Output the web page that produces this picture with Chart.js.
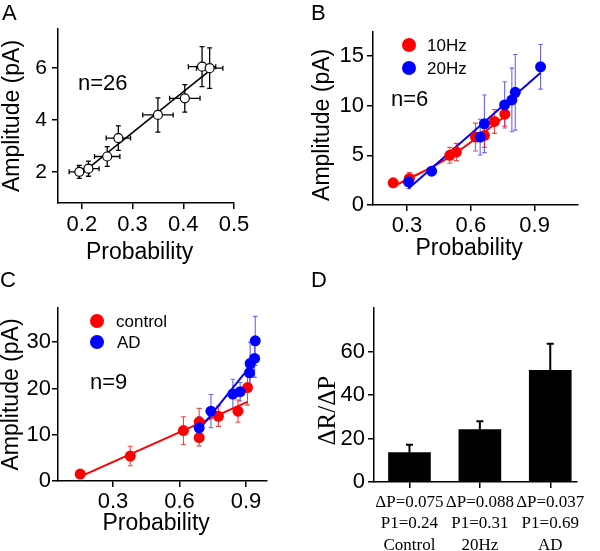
<!DOCTYPE html>
<html>
<head>
<meta charset="utf-8">
<script src="https://cdn.jsdelivr.net/npm/chart.js@4.4.0/dist/chart.umd.min.js"></script>
<style>
body { margin: 0; background: #fff; }
#fig { position: relative; width: 600px; height: 551px; font-family: "Liberation Sans", Arial, sans-serif; color: #000; overflow: hidden; }
#fig canvas { position: absolute; }
.txt { position: absolute; line-height: 1; white-space: nowrap; }
.panel { font-size: 22px; }
.nlab { font-size: 22px; }
.leg { font-size: 17px; }
.dot { position: absolute; width: 14px; height: 14px; border-radius: 50%; }
</style>
</head>
<body>
<div id="fig">
	<canvas id="chartA" width="300" height="275" style="left:0;top:0"></canvas>
	<canvas id="chartB" width="300" height="275" style="left:300px;top:0"></canvas>
	<canvas id="chartC" width="300" height="276" style="left:0;top:275px"></canvas>
	<canvas id="chartD" width="300" height="276" style="left:300px;top:275px"></canvas>

	<div class="txt panel" style="left:2px;top:2px">A</div>
	<div class="txt panel" style="left:311px;top:2px">B</div>
	<div class="txt panel" style="left:0;top:269px">C</div>
	<div class="txt panel" style="left:311px;top:269px">D</div>

	<div class="txt nlab" style="left:78px;top:72px">n=26</div>
	<div class="txt nlab" style="left:391px;top:88px">n=6</div>
	<div class="txt nlab" style="left:90px;top:371px">n=9</div>

	<!-- legend B -->
	<div class="dot" style="left:402px;top:38px;background:#ff0000"></div>
	<div class="txt leg" style="left:427px;top:37px">10Hz</div>
	<div class="dot" style="left:402px;top:61px;background:#0000ff"></div>
	<div class="txt leg" style="left:427px;top:60px">20Hz</div>
	<!-- legend C -->
	<div class="dot" style="left:90px;top:314px;background:#ff0000"></div>
	<div class="txt leg" style="left:116px;top:313px">control</div>
	<div class="dot" style="left:90px;top:335px;background:#0000ff"></div>
	<div class="txt leg" style="left:117px;top:334px">AD</div>
</div>

<script>
// ---------- Panel A data ----------
const probA = [0.195, 0.213, 0.25, 0.272, 0.35, 0.403, 0.437, 0.452];
const ampA = [2.0, 2.12, 2.59, 3.3, 4.19, 4.83, 6.05, 5.99];
const probErrA = [0.02, 0.021, 0.025, 0.024, 0.03, 0.03, 0.027, 0.026];
const ampErrA = [0.25, 0.29, 0.38, 0.47, 0.66, 0.53, 0.77, 0.78];
const fitProbA = [0.195, 0.452];
const fitAmpA = [1.86, 5.9];
const xTicksA = [0.2, 0.3, 0.4, 0.5];
const yTicksA = [2, 4, 6];

// ---------- Panel B data ----------
const prob10Hz = [0.235, 0.311, 0.501, 0.532, 0.622, 0.664, 0.711, 0.76];
const amp10Hz = [2.23, 2.67, 5.0, 5.33, 6.83, 7.0, 8.4, 9.13];
const err10Hz = [0, 0.6, 0.8, 0.87, 1.4, 1.2, 1.2, 1.2];
const prob20Hz = [0.307, 0.416, 0.644, 0.664, 0.759, 0.793, 0.809, 0.928];
const amp20Hz = [2.33, 3.4, 6.83, 8.17, 10.07, 10.57, 11.33, 13.9];
const err20Hz = [0.7, 0, 1.8, 2.9, 2.33, 3.2, 3.8, 2.25];
const fitProb10Hz = [0.238, 0.501, 0.757];
const fitAmp10Hz = [1.88, 4.85, 8.85];
const fitProb20Hz = [0.307, 0.928];
const fitAmp20Hz = [1.67, 13.3];
const xTicksB = [0.3, 0.6, 0.9];
const yTicksB = [0, 5, 10, 15];

// ---------- Panel C data ----------
const probCtrl = [0.152, 0.378, 0.618, 0.689, 0.689, 0.776, 0.864, 0.907];
const ampCtrl = [1.5, 5.4, 10.9, 12.8, 9.4, 14.0, 15.1, 20.2];
const errCtrl = [0, 2.1, 3.0, 2.9, 1.8, 2.2, 2.4, 3.8];
const probAD = [0.689, 0.742, 0.841, 0.874, 0.916, 0.919, 0.939, 0.942];
const ampAD = [11.5, 15.1, 18.8, 19.3, 23.4, 25.4, 26.5, 30.3];
const errAD = [2.4, 3.6, 3.2, 2.0, 2.5, 4.6, 4.1, 5.3];
const fitProbCtrl = [0.152, 0.907];
const fitAmpCtrl = [0.93, 17.1];
const fitProbAD = [0.689, 0.907];
const fitAmpAD = [11.1, 24.1];
const xTicksC = [0.3, 0.6, 0.9];
const yTicksC = [0, 10, 20, 30];

// ---------- Panel D data ----------
const groupsD = ['Control', '20Hz', 'AD'];
const deltaPD = ['ΔP=0.075', 'ΔP=0.088', 'ΔP=0.037'];
const p1D = ['P1=0.24', 'P1=0.31', 'P1=0.69'];
const ratioD = [13.5, 24.1, 51.4];
const ratioErrD = [3.6, 3.8, 12.2];
const yTicksD = [0, 20, 40, 60];

Chart.defaults.font.family = '"Liberation Sans", Arial, sans-serif';
Chart.defaults.color = '#000';
Chart.defaults.animation = false;

function pts(xs, ys) {
	return xs.map(function (x, i) { return { x: x, y: ys[i] }; });
}

// error bars drawn from the data through the chart's own scales
const errorBars = {
	id: 'errorBars',
	beforeDatasetsDraw: function (chart) { drawErrors(chart, false); },
	afterDatasetsDraw: function (chart) { drawErrors(chart, true); }
};
function drawErrors(chart, after) {
	const ctx = chart.ctx, xs = chart.scales.x, ys = chart.scales.y;
	chart.data.datasets.forEach(function (ds) {
		if (!ds.errY || !!ds.errAfter !== after) return;
		const c = ds.capSize || 2.5;
		ctx.save();
		ctx.strokeStyle = ds.errColor || '#000';
		ctx.lineWidth = ds.errWidth || 1.2;
		ctx.beginPath();
		ds.data.forEach(function (p, i) {
			const px = xs.getPixelForValue(p.x), py = ys.getPixelForValue(p.y);
			const ey = ds.errY[i];
			if (ey) {
				const top = ys.getPixelForValue(p.y + ey);
				const bot = ds.errUp ? py : ys.getPixelForValue(p.y - ey);
				ctx.moveTo(px, top); ctx.lineTo(px, bot);
				ctx.moveTo(px - c, top); ctx.lineTo(px + c, top);
				if (!ds.errUp) { ctx.moveTo(px - c, bot); ctx.lineTo(px + c, bot); }
			}
			if (ds.errX && ds.errX[i]) {
				const l = xs.getPixelForValue(p.x - ds.errX[i]);
				const r = xs.getPixelForValue(p.x + ds.errX[i]);
				ctx.moveTo(l, py); ctx.lineTo(r, py);
				ctx.moveTo(l, py - c); ctx.lineTo(l, py + c);
				ctx.moveTo(r, py - c); ctx.lineTo(r, py + c);
			}
		});
		ctx.stroke();
		ctx.restore();
	});
}

// shared axis look: only outward tick marks and black axis lines
function axis(p) {
	return {
		type: 'linear',
		min: p.min,
		max: p.max,
		offset: false,
		afterBuildTicks: function (s) { s.ticks = p.ticks.map(function (v) { return { value: v }; }); },
		afterFit: function (s) { if (s.isHorizontal()) s.height = p.size; else s.width = p.size; },
		border: { display: true, color: '#000', width: 1.5 },
		grid: { drawOnChartArea: false, drawTicks: true, tickLength: 6, color: '#000', lineWidth: 1.5, offset: false },
		ticks: {
			autoSkip: false, maxRotation: 0, minRotation: 0,
			padding: p.tickPad, color: '#000',
			font: p.tickFont || { size: 22 },
			callback: p.labels
		},
		title: {
			display: true, text: p.title, color: '#000',
			font: p.titleFont || { size: 23 },
			padding: { top: p.titlePad, bottom: p.titlePad }
		}
	};
}

function baseOptions(pad, x, y) {
	return {
		responsive: false,
		events: [],
		layout: { padding: pad },
		plugins: { legend: { display: false }, tooltip: { enabled: false } },
		scales: { x: axis(x), y: axis(y) }
	};
}

// ---------- A ----------
new Chart(document.getElementById('chartA'), {
	type: 'scatter',
	data: {
		datasets: [{
			data: pts(probA, ampA),
			errX: probErrA, errY: ampErrA, errColor: '#000', errWidth: 1.3, capSize: 2.5,
			pointRadius: 4.5,
			backgroundColor: '#fff',
			borderColor: '#000',
			borderWidth: 1.2
		}, {
			data: pts(fitProbA, fitAmpA),
			showLine: true,
			pointRadius: 0,
			borderColor: '#000',
			borderWidth: 1.6
		}]
	},
	options: baseOptions({ top: 29, right: 66, bottom: 0, left: 0 },
		{ min: 0.153, max: 0.5, ticks: xTicksA, size: 72, tickPad: 3, title: 'Probability\u00a0\u00a0', titlePad: 9 },
		{ min: 0.8, max: 7.5, ticks: yTicksA, size: 58, tickPad: 5, tickFont: { size: 21 }, title: 'Amplitude (pA)', titlePad: -1 }),
	plugins: [errorBars]
});

// ---------- B ----------
new Chart(document.getElementById('chartB'), {
	type: 'scatter',
	data: {
		datasets: [{
			label: '20Hz',
			data: pts(prob20Hz, amp20Hz),
			errY: err20Hz, errColor: 'rgba(50,50,255,0.75)', errWidth: 1.1, capSize: 2.2,
			pointRadius: 5.5, backgroundColor: '#0000ff', borderColor: '#0000ff', borderWidth: 0
		}, {
			label: '10Hz',
			data: pts(prob10Hz, amp10Hz),
			errY: err10Hz, errColor: 'rgba(255,20,20,0.8)', errWidth: 1.1, capSize: 2.5,
			pointRadius: 5.5, backgroundColor: '#ff0000', borderColor: '#ff0000', borderWidth: 0
		}, {
			data: pts(fitProb20Hz, fitAmp20Hz),
			showLine: true, pointRadius: 0, borderColor: '#0000ff', borderWidth: 2
		}, {
			data: pts(fitProb10Hz, fitAmp10Hz),
			showLine: true, pointRadius: 0, borderColor: '#ff0000', borderWidth: 2, tension: 0.35
		}]
	},
	options: baseOptions({ top: 32, right: 22, bottom: 0, left: 0 },
		{ min: 0.14, max: 1.104, ticks: xTicksB, size: 70, tickPad: 1.5, title: 'Probability\u00a0\u00a0', titlePad: 12.5 },
		{ min: 0, max: 17.4, ticks: yTicksB, size: 73, tickPad: 3, title: 'Amplitude (pA)\u00a0\u00a0', titlePad: 9 }),
	plugins: [errorBars]
});

// ---------- C ----------
new Chart(document.getElementById('chartC'), {
	type: 'scatter',
	data: {
		datasets: [{
			label: 'AD',
			data: pts(probAD, ampAD),
			errY: errAD, errColor: 'rgba(50,50,255,0.75)', errWidth: 1.1, capSize: 2.2,
			pointRadius: 5.5, backgroundColor: '#0000ff', borderColor: '#0000ff', borderWidth: 0
		}, {
			label: 'control',
			data: pts(probCtrl, ampCtrl),
			errY: errCtrl, errColor: 'rgba(255,20,20,0.8)', errWidth: 1.1, capSize: 2.5,
			pointRadius: 5.5, backgroundColor: '#ff0000', borderColor: '#ff0000', borderWidth: 0
		}, {
			data: pts(fitProbAD, fitAmpAD),
			showLine: true, pointRadius: 0, borderColor: '#0000ff', borderWidth: 2
		}, {
			data: pts(fitProbCtrl, fitAmpCtrl),
			showLine: true, pointRadius: 0, borderColor: '#ff0000', borderWidth: 2
		}]
	},
	options: baseOptions({ top: 33, right: 33, bottom: 0, left: 0 },
		{ min: 0.052, max: 0.995, ticks: xTicksC, size: 70, tickPad: 1.5, title: 'Probability\u00a0\u00a0', titlePad: 14 },
		{ min: 0, max: 37.4, ticks: yTicksC, size: 58, tickPad: 1, title: 'Amplitude (pA)', titlePad: -2 }),
	plugins: [errorBars]
});

// ---------- D ----------
const optsD = baseOptions({ top: 33, right: 23, bottom: 0, left: 0 },
	{
		min: 0.496, max: 3.38, ticks: [1, 2, 3], size: 69, tickPad: 4,
		tickFont: { family: '"Liberation Serif", "Times New Roman", serif', size: 17, lineHeight: 1.25 },
		labels: function (v, i) { return [deltaPD[i], p1D[i], groupsD[i]]; },
		title: ''
	},
	{
		min: 0, max: 80, ticks: yTicksD, size: 74, tickPad: 3,
		title: 'ΔR/ΔP\u00a0\u00a0\u00a0\u00a0\u00a0',
		titleFont: { family: '"Liberation Serif", "Times New Roman", serif', size: 25 },
		titlePad: 13
	});
optsD.scales.x.title.display = false;

new Chart(document.getElementById('chartD'), {
	type: 'bar',
	data: {
		datasets: [{
			data: groupsD.map(function (g, i) { return { x: i + 1, y: ratioD[i] }; }),
			errY: ratioErrD, errUp: true, errAfter: true, errColor: '#000', errWidth: 2, capSize: 3.5,
			backgroundColor: '#000',
			borderWidth: 0,
			barThickness: 42
		}]
	},
	options: optsD,
	plugins: [errorBars]
});
</script>
</body>
</html>
